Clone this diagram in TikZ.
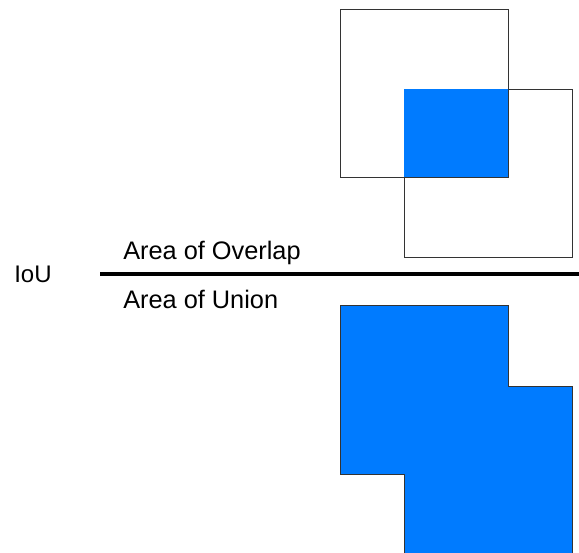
\documentclass[tikz,border=0pt]{standalone}
\usepackage{fontspec}
\setmainfont{Liberation Sans}
\usetikzlibrary{positioning}
\definecolor{hitblue}{RGB}{0,123,255}
\begin{document}
\begin{tikzpicture}[x=0.75pt,y=-0.75pt,
  box/.style={draw=black!80, line width=0.75pt},
  lbl/.style={anchor=base west, inner sep=0pt, font=\fontsize{19}{22}\selectfont}]
\useasboundingbox (0,0) rectangle (579,553);
\clip (0,0) rectangle (579,553);
% two overlapping boxes, shared part filled
\draw[box] (340,9) rectangle (508,177);
\draw[box] (404,89) rectangle (572,257);
\fill[hitblue] (404,89) rectangle (508,177);
% fraction bar with its labels
\node[lbl] (overlap) at (123,259) {Area of Overlap};
\node[lbl] (union) at (123,308) {Area of Union};
\node[lbl, font=\fontsize{18}{20}\selectfont] (iou) at (14,282) {IoU};
\coordinate (barL) at (100,274);
\coordinate (barR) at (579,274);
\draw[line width=3pt] (barL) -- (barR);
% union of the two boxes
\draw[box, fill=hitblue] (340,305) -| (508,386) -| (572,554) -| (404,474) -| (340,305) -- cycle;
\end{tikzpicture}
\end{document}
